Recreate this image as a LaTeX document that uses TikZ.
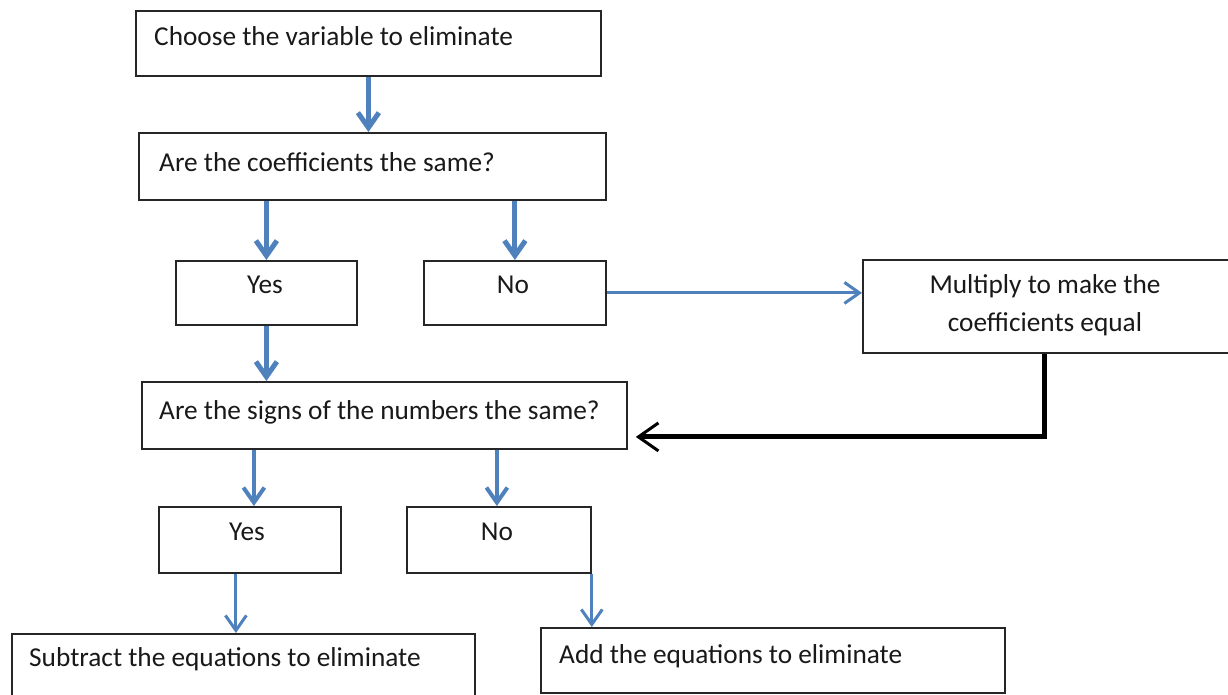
\documentclass[tikz,border=0pt]{standalone}
\usepackage{fontspec}
\setmainfont{Carlito}
\usetikzlibrary{arrows.meta}
\definecolor{flowblue}{RGB}{79,129,189}
\tikzset{
  box/.style={draw=black!85, line width=1.8pt, anchor=north west, inner sep=0pt, fill=white},
  txt/.style={inner sep=0pt, font=\fontsize{27.3pt}{37pt}\selectfont, text=black!90},
  barrow/.style={draw=flowblue, line width=#1, -{Straight Barb[length=15pt,width=21pt,line width=#1]}},
  karrow/.style={draw=black, line width=5pt, -{Straight Barb[length=20pt,width=28pt,line width=3pt]}}
}
\begin{document}
\begin{tikzpicture}[x=1pt,y=-1pt]
\clip (0,0) rectangle (1228,694);
\fill[white] (0,0) rectangle (1228,694);
% boxes
\node[box, minimum width=465pt, minimum height=65pt] (b1) at (135,10) {};
\node[box, minimum width=467pt, minimum height=67pt] (b2) at (138,132) {};
\node[box, minimum width=181pt, minimum height=64pt] (y1) at (175,260) {};
\node[box, minimum width=182pt, minimum height=64pt] (n1) at (423,260) {};
\node[box, minimum width=366pt, minimum height=93pt] (m) at (862,259) {};
\node[box, minimum width=485pt, minimum height=67pt] (b3) at (141,381) {};
\node[box, minimum width=182pt, minimum height=66pt] (y2) at (158,506) {};
\node[box, minimum width=184pt, minimum height=66pt] (n2) at (406,506) {};
\node[box, minimum width=463pt, minimum height=80pt] (s) at (11,633) {};
\node[box, minimum width=464pt, minimum height=65pt] (a) at (540,627) {};
% texts
\node[txt, anchor=base west] (t1) at (154,45) {Choose the variable to eliminate};
\node[txt, anchor=base west] (t2) at (159,171) {Are the coefficients the same?};
\node[txt, anchor=base] (ty1) at (265,293) {Yes};
\node[txt, anchor=base] (tn1) at (513,293) {No};
\node[txt, anchor=base] (tm1) at (1045,293) {Multiply to make the};
\node[txt, anchor=base] (tm2) at (1045,331) {coefficients equal};
\node[txt, anchor=base west] (t3) at (159,419) {Are the signs of the numbers the same?};
\node[txt, anchor=base] (ty2) at (247,540) {Yes};
\node[txt, anchor=base] (tn2) at (497,540) {No};
\node[txt, anchor=base west] (ts) at (29,666) {Subtract the equations to eliminate};
\node[txt, anchor=base west] (ta) at (559,663) {Add the equations to eliminate};
% connectors
\draw[barrow=5pt] (b1.south) -- (b1.south |- b2.north);
\draw[barrow=5pt] (y1.north |- b2.south) -- (y1.north);
\draw[barrow=5pt] (n1.north |- b2.south) -- (n1.north);
\draw[barrow=3pt] (n1.east) -- (n1.east -| m.west);
\draw[barrow=5pt] (y1.south) -- (y1.south |- b3.north);
\coordinate (yb) at ([xshift=4pt]y2.north);
\draw[barrow=4pt] (yb |- b3.south) -- (yb);
\coordinate (nb) at ([xshift=-2pt]n2.north);
\draw[barrow=4pt] (nb |- b3.south) -- (nb);
\coordinate (ys) at ([xshift=-14pt]y2.south);
\draw[barrow=3pt] (ys) -- (ys |- s.north);
\draw[barrow=3pt] (n2.south east) -- (n2.south east |- a.north);
\coordinate (mb) at ([xshift=-1.5pt]m.south);
\coordinate (b3t) at ([xshift=8pt,yshift=-21.5pt]b3.east);
\draw[karrow] (mb) |- (b3t);
\end{tikzpicture}
\end{document}
